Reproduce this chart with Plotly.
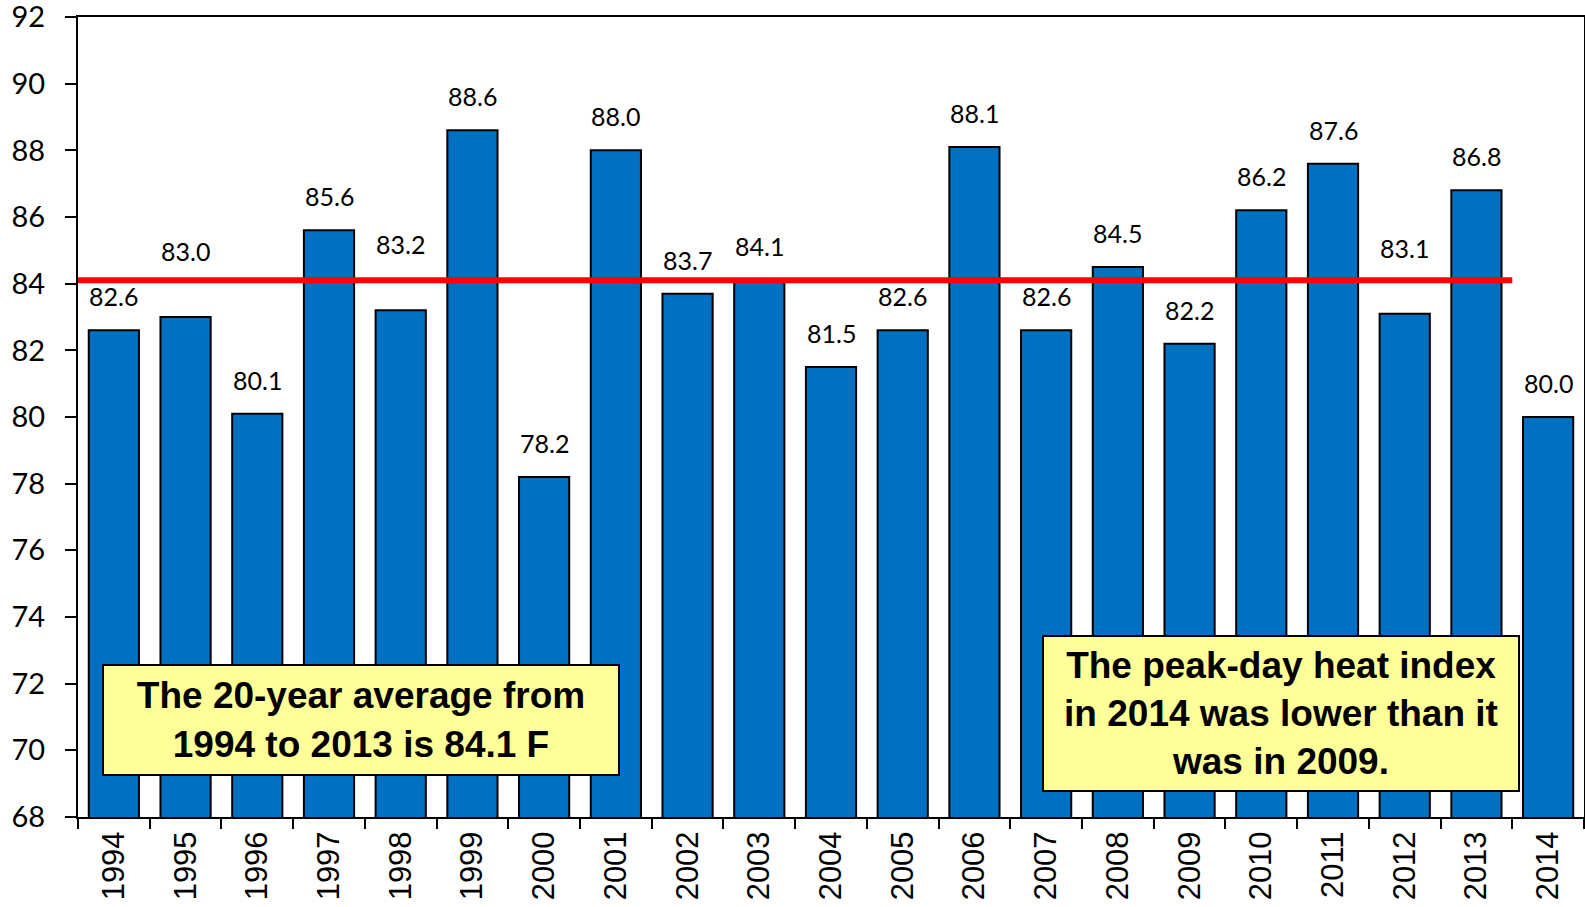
import plotly.graph_objects as go

years = [str(y) for y in range(1994, 2015)]
heat_index = [82.6, 83.0, 80.1, 85.6, 83.2, 88.6, 78.2, 88.0, 83.7, 84.1, 81.5,
              82.6, 88.1, 82.6, 84.5, 82.2, 86.2, 87.6, 83.1, 86.8, 80.0]
avg_value = 84.1
avg_span = ['1994', '2013']
# labels nudged above the average line in the original
lifted = ['1995', '1998', '2012']

note_left = "The 20-year average from<br>1994 to 2013 is 84.1 F"
note_right = "The peak-day heat index<br>in 2014 was lower than it<br>was in 2009."

fig = go.Figure()
fig.add_trace(go.Bar(x=years, y=heat_index, marker=dict(color='#0070C0', line=dict(color='black', width=2)),
                     width=0.7, showlegend=False, hoverinfo='x+y'))

i0 = years.index(avg_span[0])
i1 = years.index(avg_span[1])
fig.add_shape(type='line', xref='x', yref='y', x0=i0 - 0.5, x1=i1 + 0.5, y0=avg_value, y1=avg_value,
              line=dict(color='#FF0000', width=6))

# category axis: annotation x must be the category index
for i, (yr, v) in enumerate(zip(years, heat_index)):
    shift = 66 if yr in lifted else 34
    fig.add_annotation(x=i, y=v, text=f"{v:.1f}", showarrow=False, yshift=shift,
                       font=dict(family='Lato', size=25, color='black'))

fig.add_annotation(xref='paper', yref='paper', x=(102 - 78) / 1506, y=(817 - 720) / 800,
                   xanchor='left', yanchor='middle', text=note_left, showarrow=False, align='center',
                   font=dict(family='Liberation Sans', size=37, color='black', weight='bold'),
                   bgcolor='#FFFF99', bordercolor='black', borderwidth=2, width=512, height=106)
fig.add_annotation(xref='paper', yref='paper', x=(1520 - 78) / 1506, y=(817 - 713) / 800,
                   xanchor='right', yanchor='middle', text=note_right, showarrow=False, align='center',
                   font=dict(family='Liberation Sans', size=37, color='black', weight='bold'),
                   bgcolor='#FFFF99', bordercolor='black', borderwidth=2, width=472, height=151)

fig.update_layout(
    width=1585, height=907,
    margin=dict(l=78, r=1, t=17, b=90),
    plot_bgcolor='white', paper_bgcolor='white',
    bargap=0.3,
    xaxis=dict(type='category', range=[-0.5, len(years) - 0.5], showline=True, linecolor='black', linewidth=2,
               mirror=True, ticks='outside', ticklen=10, tickwidth=2, tickcolor='black', tickson='boundaries',
               tickangle=-90, automargin=False, ticklabeloverflow='allow',
               tickfont=dict(family='Liberation Sans', size=31, color='black')),
    yaxis=dict(range=[68, 92.001], tick0=68, dtick=2, showline=True, linecolor='black', linewidth=2, mirror=True,
               ticks='outside', ticklen=11, tickwidth=2, tickcolor='black', showgrid=False, zeroline=False,
               automargin=False, ticklabelstandoff=14, ticklabeloverflow='allow',
               tickfont=dict(family='Lato', size=29, color='black')),
)

# the page's default body margin would shift the figure by 8px
fig.write_html("out.html", config={'displayModeBar': False},
               post_script="document.body.style.margin='0';")
